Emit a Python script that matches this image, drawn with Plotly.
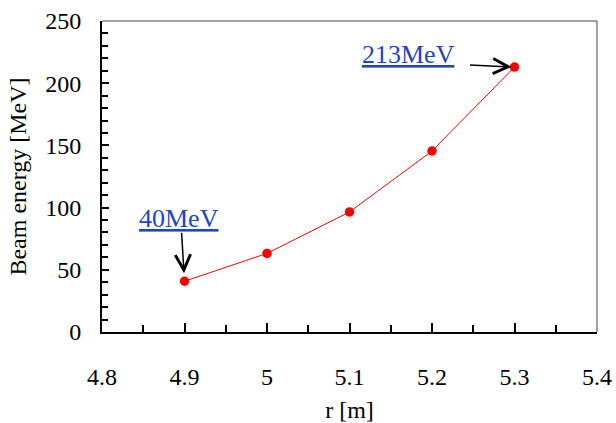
import plotly.graph_objects as go

r_m = [4.9, 5.0, 5.1, 5.2, 5.3]
energy_mev = [40.8, 63.2, 96.5, 145.5, 213.0]
x_ticks = [4.8, 4.9, 5.0, 5.1, 5.2, 5.3, 5.4]
x_tick_text = ["4.8", "4.9", "5", "5.1", "5.2", "5.3", "5.4"]
y_ticks = [0, 50, 100, 150, 200, 250]

FONT = "Liberation Serif"
BLUE = "#1f45c9"

fig = go.Figure()
fig.add_trace(go.Scatter(
    x=r_m, y=energy_mev, mode="lines+markers",
    line=dict(color="#ff0000", width=1),
    marker=dict(color="#ff0000", size=9.5),
    showlegend=False,
))

fig.update_layout(
    width=616, height=423,
    margin=dict(l=102, r=19, t=21, b=91),
    paper_bgcolor="white", plot_bgcolor="white",
    font=dict(family=FONT, size=24, color="black"),
    xaxis=dict(
        range=[4.8, 5.4], tickvals=x_ticks, ticktext=x_tick_text,
        ticks="inside", ticklen=9, tickwidth=1.5, tickcolor="black",
        minor=dict(ticks="inside", ticklen=7, dtick=0.05, tickcolor="black", tickwidth=1.5),
        showline=True, linecolor="black", linewidth=2,
        showgrid=False, zeroline=False, automargin=False,
        ticklabelstandoff=22,
        title=dict(text="r [m]", standoff=14, font=dict(size=24)),
    ),
    yaxis=dict(
        range=[0, 250], tickvals=y_ticks,
        ticks="inside", ticklen=7, tickwidth=1.5, tickcolor="black",
        minor=dict(ticks="inside", ticklen=6, dtick=10, tickcolor="black", tickwidth=1.5),
        showline=True, linecolor="black", linewidth=2,
        showgrid=False, zeroline=False, automargin=False,
        ticklabelstandoff=14,
        title=dict(text="Beam energy [MeV]", standoff=12, font=dict(size=24)),
    ),
    shapes=[
        dict(type="line", xref="paper", yref="paper", x0=0, x1=1, y0=1, y1=1,
             line=dict(color="#444444", width=1)),
        dict(type="line", xref="paper", yref="paper", x0=1, x1=1, y0=0, y1=1,
             line=dict(color="#444444", width=1)),
    ],
)

# labels
fig.add_annotation(x=4.8933, y=91.6, xref="x", yref="y", text="<u>40MeV</u>",
                   showarrow=False, font=dict(family=FONT, size=26, color=BLUE))
fig.add_annotation(x=5.172, y=222.7, xref="x", yref="y", text="<u>213MeV</u>",
                   showarrow=False, font=dict(family=FONT, size=26, color=BLUE))
# arrows
fig.add_annotation(x=r_m[0], y=energy_mev[0], xref="x", yref="y", text="",
                   showarrow=True, ax=-3, ay=-50, standoff=8,
                   arrowhead=5, arrowsize=2.0, arrowwidth=1.5, arrowcolor="black")
fig.add_annotation(x=r_m[-1], y=energy_mev[-1], xref="x", yref="y", text="",
                   showarrow=True, ax=-46, ay=-2, standoff=3,
                   arrowhead=5, arrowsize=2.0, arrowwidth=1.5, arrowcolor="black")

fig.write_html(
    "out.html",
    config={"displayModeBar": False},
    post_script="document.body.style.margin='0';document.body.style.overflow='hidden';",
)
